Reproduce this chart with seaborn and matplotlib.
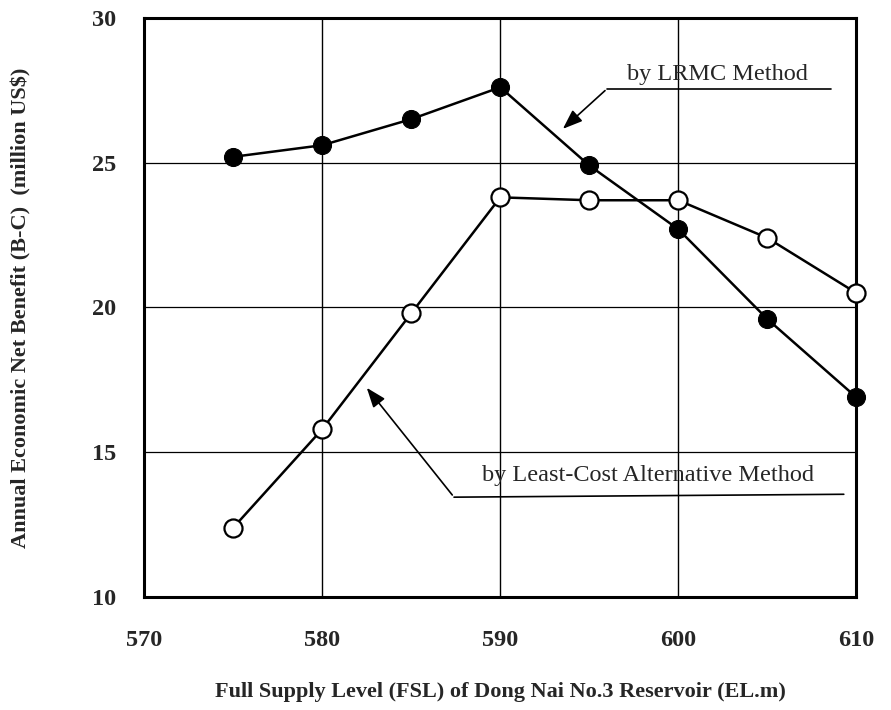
import matplotlib
matplotlib.use("Agg")
import matplotlib.pyplot as plt
import pandas as pd
import seaborn as sns

# values
fsl = [575, 580, 585, 590, 595, 600, 605, 610]
lrmc = [25.2, 25.6, 26.5, 27.6, 24.9, 22.7, 19.6, 16.9]
least_cost = [12.4, 15.8, 19.8, 23.8, 23.7, 23.7, 22.4, 20.5]

x_ticks = [570, 580, 590, 600, 610]
y_ticks = [10, 15, 20, 25, 30]

df = pd.DataFrame({"fsl": fsl, "lrmc": lrmc, "least_cost": least_cost})

sns.set_style("white")
plt.rcParams["font.family"] = ["Liberation Serif", "DejaVu Serif"]

fig = plt.figure(figsize=(8.91, 7.10), dpi=100)
ax = fig.add_axes([0.162, 0.159, 0.799, 0.816])

# grid only at the inner ticks
for gx in [580, 590, 600]:
    ax.axvline(gx, color="black", lw=1.0, zorder=1)
for gy in [15, 20, 25]:
    ax.axhline(gy, color="black", lw=0.9, zorder=1)

sns.lineplot(data=df, x="fsl", y="lrmc", ax=ax, color="black", lw=1.8,
             marker="o", markersize=13, markerfacecolor="black",
             markeredgecolor="black", zorder=3, clip_on=False)
sns.lineplot(data=df, x="fsl", y="least_cost", ax=ax, color="black", lw=1.8,
             marker="o", markersize=13, markerfacecolor="white",
             markeredgecolor="black", markeredgewidth=1.6, zorder=3,
             clip_on=False)

ax.set_xlim(570, 610)
ax.set_ylim(10, 30)
ax.set_xticks(x_ticks)
ax.set_yticks(y_ticks)
ax.tick_params(axis="both", length=0, labelsize=17.5)
ax.tick_params(axis="x", pad=24)
ax.tick_params(axis="y", pad=20)
for lab in ax.get_xticklabels() + ax.get_yticklabels():
    lab.set_fontweight("bold")

for sp in ax.spines.values():
    sp.set_visible(True)
    sp.set_color("black")
    sp.set_linewidth(2.2)

ax.set_xlabel("Full Supply Level (FSL) of Dong Nai No.3 Reservoir (EL.m)",
              fontsize=16, fontweight="bold", labelpad=22)
ax.set_ylabel("Annual Economic Net Benefit (B-C)  (million US$)",
              fontsize=16, fontweight="bold", labelpad=44)

# annotation: LRMC
ax.text(602.2, 28.05, "by LRMC Method", fontsize=17.5, ha="center", va="center")
ax.plot([596.0, 608.6], [27.55, 27.55], color="black", lw=1.2)
ax.annotate("", xy=(593.4, 26.1), xytext=(596.0, 27.55),
            arrowprops=dict(arrowstyle="-|>,head_length=1.2,head_width=0.45",
                            color="black", lw=1.2))

# annotation: least-cost
ax.text(598.3, 14.2, "by Least-Cost Alternative Method", fontsize=17.5,
        ha="center", va="center")
ax.plot([587.4, 609.3], [13.45, 13.55], color="black", lw=1.2)
ax.annotate("", xy=(582.4, 17.3), xytext=(587.4, 13.45),
            arrowprops=dict(arrowstyle="-|>,head_length=1.2,head_width=0.45",
                            color="black", lw=1.2))

fig.savefig("out.png", dpi=100)
